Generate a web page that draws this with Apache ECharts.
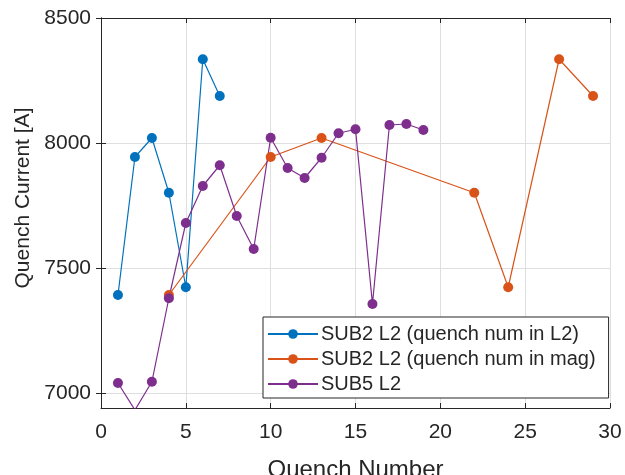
<!DOCTYPE html>
<html>
<head>
<meta charset="utf-8">
<script src="https://cdn.jsdelivr.net/npm/echarts@6/dist/echarts.min.js"></script>
<style>html,body{margin:0;padding:0;background:#fff}#c{width:625px;height:475px}</style>
</head>
<body>
<div id="c"></div>
<script>
const sub2L2X = [1, 2, 3, 4, 5, 6, 7];
const sub2L2Y = [7392, 7944, 8020, 7801, 7423, 8335, 8188];
const sub2MagX = [4, 10, 13, 22, 24, 27, 29];
const sub2MagY = [7392, 7944, 8020, 7801, 7423, 8335, 8188];
const sub5X = [1, 2, 3, 4, 5, 6, 7, 8, 9, 10, 11, 12, 13, 14, 15, 16, 17, 18, 19];
const sub5Y = [7040, 6932, 7045, 7379, 7680, 7828, 7911, 7708, 7576, 8021, 7900, 7860, 7941, 8039, 8055, 7356, 8072, 8076, 8052];
const seriesNames = ['SUB2 L2 (quench num in L2)', 'SUB2 L2 (quench num in mag)', 'SUB5 L2'];
const yTicks = [7000, 7500, 8000, 8500];
const xTicks = [0, 5, 10, 15, 20, 25, 30];

const colors = ['#0072BD', '#D95319', '#7E2F8E'];
const font = 'Liberation Sans, Arial, Helvetica, sans-serif';
const txt = '#262626';

function pairs(xs, ys) { return xs.map((x, i) => [x, ys[i]]); }

const chart = echarts.init(document.getElementById('c'));
const mk = (name, xs, ys, c) => ({
  name, type: 'line', data: pairs(xs, ys), color: c,
  symbol: 'circle', symbolSize: 10,
  lineStyle: { width: 1.2, color: c }, itemStyle: { color: c },
  emphasis: { disabled: true }, animation: false
});
const axisCommonX = {
  type: 'value', min: 0, max: 30,
  axisTick: { inside: true, length: 5, customValues: xTicks, lineStyle: { color: txt } },
  axisLine: { show: true, lineStyle: { color: txt, width: 1 } },
};
const axisCommonY = {
  type: 'value', min: 6940, max: 8500,
  axisTick: { inside: true, length: 5, customValues: yTicks, lineStyle: { color: txt } },
  axisLine: { show: true, lineStyle: { color: txt, width: 1 } },
};
chart.setOption({
  backgroundColor: '#fff',
  animation: false,
  grid: { left: 101, right: 15, top: 18, bottom: 67, containLabel: false, outerBoundsMode: 'none' },
  xAxis: [
    Object.assign({}, axisCommonX, {
      position: 'bottom',
      name: 'Quench Number', nameLocation: 'middle', nameGap: 50,
      nameTextStyle: { fontFamily: font, fontSize: 24, color: txt },
      axisLabel: { customValues: xTicks, fontFamily: font, fontSize: 21, color: txt, margin: 14, formatter: v => String(v) },
      splitLine: { show: true, lineStyle: { color: '#dfdfdf', width: 1 } }
    }),
    Object.assign({}, axisCommonX, {
      position: 'top', axisLabel: { show: false }, splitLine: { show: false }
    })
  ],
  yAxis: [
    Object.assign({}, axisCommonY, {
      position: 'left',
      name: 'Quench Current [A]', nameLocation: 'middle', nameGap: 61,
      nameTextStyle: { fontFamily: font, fontSize: 21, color: txt, padding: [0, 0, 0, 30] },
      axisLabel: { customValues: yTicks, fontFamily: font, fontSize: 21, color: txt, margin: 10, formatter: v => String(v) },
      splitLine: { show: true, lineStyle: { color: '#dfdfdf', width: 1 } }
    }),
    Object.assign({}, axisCommonY, {
      position: 'right', axisLabel: { show: false }, splitLine: { show: false }
    })
  ],
  legend: {
    orient: 'vertical', left: 263, top: 317,
    backgroundColor: '#fff', borderColor: txt, borderWidth: 1, borderRadius: 0,
    padding: [7, 13, 4, 4],
    itemWidth: 50, itemHeight: 12, itemGap: 5,
    textStyle: { fontFamily: font, fontSize: 20, color: txt, lineHeight: 20, padding: [0, 0, 0, -2] },
    data: seriesNames
  },
  series: [
    mk(seriesNames[0], sub2L2X, sub2L2Y, colors[0]),
    mk(seriesNames[1], sub2MagX, sub2MagY, colors[1]),
    mk(seriesNames[2], sub5X, sub5Y, colors[2])
  ]
});
</script>
</body>
</html>
